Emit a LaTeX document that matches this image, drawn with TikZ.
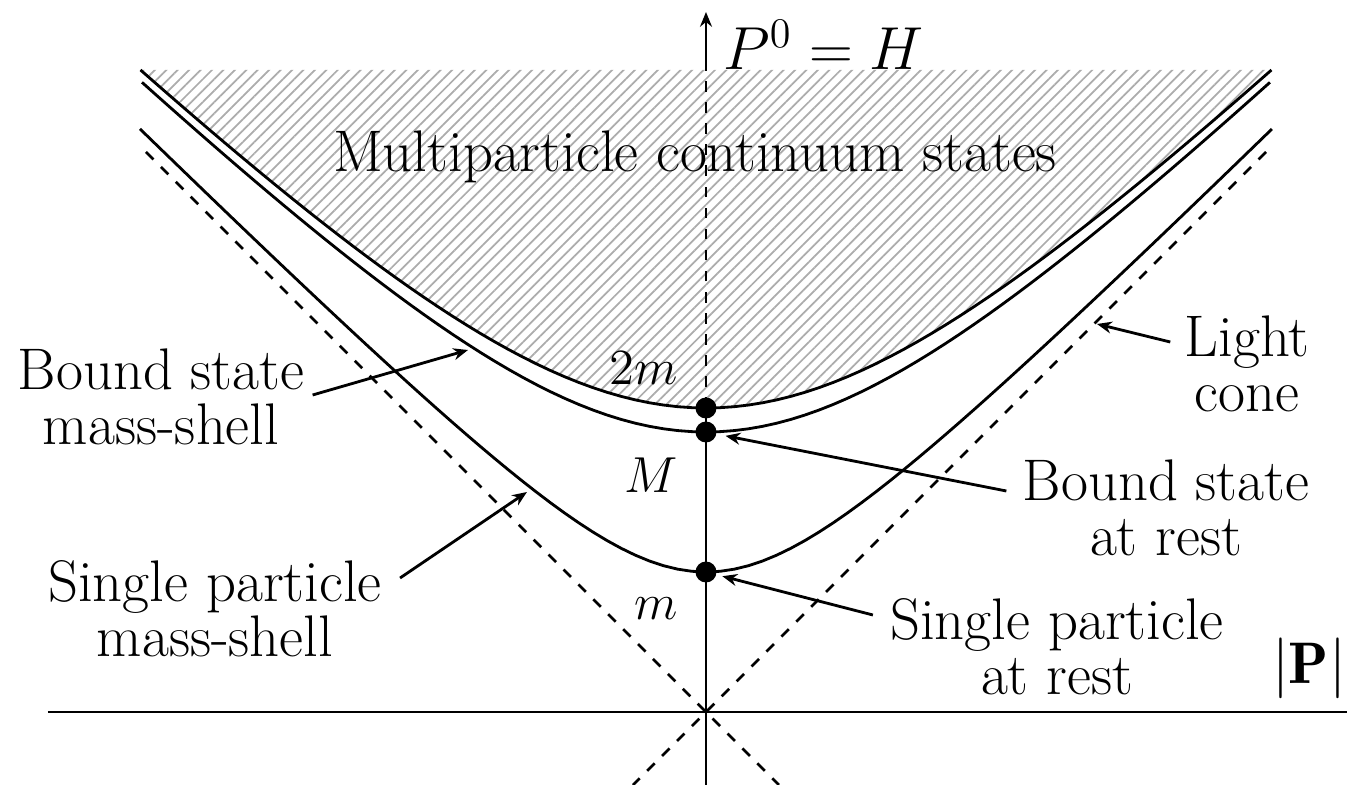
\documentclass[tikz,border=0pt]{standalone}
\usepackage{fontspec}
\usetikzlibrary{patterns.meta,arrows.meta}
\begin{document}
\begin{tikzpicture}[>={Stealth[length=4.2pt,width=3.4pt]}, thick,
    lbl/.style={align=center, inner sep=0pt, font=\fontsize{16.7}{15.6}\selectfont},
    val/.style={inner sep=0pt, anchor=base east, font=\fontsize{14.4}{15.6}\selectfont},
    dot/.style={circle, fill, inner sep=0pt, minimum size=0.21cm}]
    \useasboundingbox (-7.06,-0.73) rectangle (6.41,7.12);

    \fill[pattern={Lines[angle=45,distance=2.3pt,line width=0.5pt]}, pattern color=gray!65]
        plot[domain=-5.655:5.655, samples=81] (\x,{sqrt(3.04*3.04+\x*\x)}) -- cycle;

    \draw (-6.58,0) -- (6.41,0);
    \draw (0,-0.73) -- (0,3.04);
    \draw[dashed] (0,3.04) -- (0,6.42);
    \draw[->] (0,6.42) -- (0,7.0);

    \draw[dashed] (-5.6,5.6) -- (0.73,-0.73);
    \draw[dashed] (5.6,5.6) -- (-0.73,-0.73);

    \draw plot[domain=-5.66:5.66, samples=81] (\x,{sqrt(1.4*1.4+\x*\x)});
    \draw plot[domain=-5.64:5.64, samples=81] (\x,{sqrt(2.8*2.8+\x*\x)});
    \draw plot[domain=-5.655:5.655, samples=81] (\x,{sqrt(3.04*3.04+\x*\x)});

    \node[dot] (restm) at (0,1.4) {};
    \node[dot] (restM) at (0,2.8) {};
    \node[dot] (rest2m) at (0,3.04) {};

    \node[val] (lm) at (-0.27,0.92) {\(m\)};
    \node[val] (lM) at (-0.27,2.19) {\(M\)};
    \node[val] (l2m) at (-0.27,3.27) {\(2m\)};
    \node[lbl, anchor=base west] (energy) at (0.16,6.42) {\(P^0 = H\)};
    \node[lbl, anchor=base] (momentum) at (6.03,0.29) {\(|\mathbf{P}|\)};
    \node[lbl, anchor=base] (continuum) at (-0.11,5.40) {Multiparticle continuum states};

    \node[lbl] (bsshell) at (-5.45,3.15) {Bound state\\mass-shell};
    \node[lbl] (spshell) at (-4.91,1.03) {Single particle\\mass-shell};
    \node[lbl] (cone) at (5.41,3.48) {Light\\cone};
    \node[lbl] (bsrest) at (4.60,2.04) {Bound state\\at rest};
    \node[lbl] (sprest) at (3.51,0.65) {Single particle\\at rest};

    \coordinate (bstip) at (-2.38,3.62);
    \coordinate (sptip) at (-1.79,2.20);
    \coordinate (conetip) at (3.91,3.88);

    \draw[->] ([xshift=0.07cm,yshift=0.02cm]bsshell.east) -- (bstip);
    \draw[->] ([xshift=0.17cm,yshift=0.31cm]spshell.east) -- (sptip);
    \draw[->] ([xshift=-0.13cm,yshift=0.22cm]cone.west) -- (conetip);
    \draw[->, shorten >=0.08cm] ([xshift=-0.15cm,yshift=0.17cm]bsrest.west) -- (restM);
    \draw[->, shorten >=0.05cm] ([xshift=-0.16cm,yshift=0.32cm]sprest.west) -- (restm);
\end{tikzpicture}
\end{document}
